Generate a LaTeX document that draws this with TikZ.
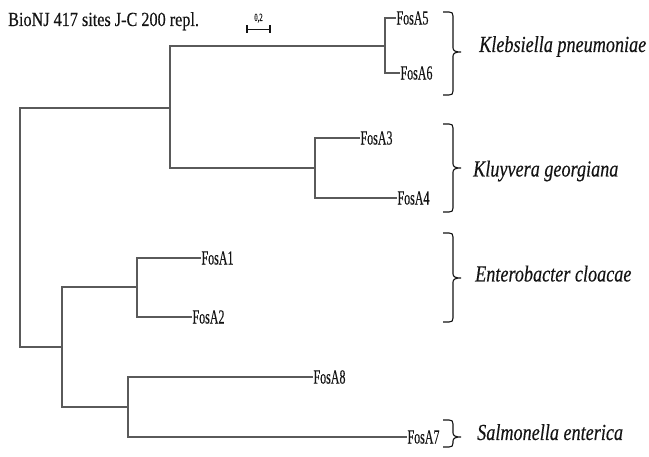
\documentclass[tikz,border=0pt]{standalone}
\usepackage{fontspec}
\setmainfont{Liberation Serif}
\newfontfamily\titlefont{Liberation Serif}[FakeStretch=0.81,FakeBold=0.3]
\newfontfamily\leaffont{Liberation Serif}[FakeStretch=0.6,FakeBold=0.3]
\newfontfamily\spfont{Liberation Serif}[FakeStretch=0.79,FakeBold=0.3]
\definecolor{branch}{RGB}{90,90,90}
\definecolor{txt}{RGB}{20,20,20}
\newcommand\mybrace[4]{% #1 name, #2 top, #3 tip, #4 bottom
  \coordinate (#1t) at (443,#2);
  \coordinate (#1m) at (461,#3);
  \coordinate (#1b) at (443,#4);
  \draw[bracket] (#1t) -- (449,#2) .. controls (452,#2) and (453,#2+1) .. (453,#2+4)
    -- (453,#3-4) .. controls (453,#3-1) and (456,#3) .. (#1m)
    .. controls (456,#3) and (453,#3+1) .. (453,#3+4)
    -- (453,#4-4) .. controls (453,#4-1) and (452,#4) .. (449,#4) -- (#1b);}
\begin{document}
\begin{tikzpicture}[x=1pt,y=-1pt,
  br/.style={draw=branch,line width=1.3pt},
  leaf/.style={anchor=west,inner xsep=0.3pt,inner ysep=0pt,text=txt,
    font=\leaffont\fontsize{20}{20}\selectfont},
  species/.style={anchor=base west,inner sep=0pt,text=txt,
    font=\spfont\itshape\fontsize{23}{23}\selectfont},
  bracket/.style={draw=txt,line width=1.1pt},
  scalebar/.style={draw=txt,line width=1.1pt}]
\useasboundingbox (0,0) rectangle (649,457);

% title
\node[anchor=base west,inner sep=0pt,text=txt,font=\titlefont\fontsize{20}{20}\selectfont]
  (title) at (8,26) {BioNJ 417 sites J-C 200 repl.};

% scale bar
\coordinate (sbl) at (247,29.5);
\coordinate (sbr) at (270,29.5);
\draw[scalebar] (sbl) -- (sbr);
\draw[scalebar] ([yshift=4pt]sbl) -- ([yshift=-4pt]sbl);
\draw[scalebar] ([yshift=4pt]sbr) -- ([yshift=-4pt]sbr);
\node[anchor=base,inner sep=0pt,text=txt,font=\leaffont\fontsize{11}{11}\selectfont]
  (sblab) at (258.5,21) {0,2};

% internal nodes
\coordinate (root) at (20,227.5);
\coordinate (A) at (170,108);
\coordinate (A1) at (385,46);
\coordinate (A2) at (315,168);
\coordinate (B) at (62,347);
\coordinate (B1) at (137,287);
\coordinate (B2) at (128,407);

% leaves
\node[leaf] (l5) at (396,18) {FosA5};
\node[leaf] (l6) at (400,73) {FosA6};
\node[leaf] (l3) at (360,138) {FosA3};
\node[leaf] (l4) at (397,198) {FosA4};
\node[leaf] (l1) at (201,258) {FosA1};
\node[leaf] (l2) at (192,317) {FosA2};
\node[leaf] (l8) at (313,377) {FosA8};
\node[leaf] (l7) at (407,437) {FosA7};

% branches
\draw[br] (root) |- (A);
\draw[br] (root) |- (B);
\draw[br] (A) |- (A1);
\draw[br] (A) |- (A2);
\draw[br] (A1) |- (l5.west);
\draw[br] (A1) |- (l6.west);
\draw[br] (A2) |- (l3.west);
\draw[br] (A2) |- (l4.west);
\draw[br] (B) |- (B1);
\draw[br] (B) |- (B2);
\draw[br] (B1) |- (l1.west);
\draw[br] (B1) |- (l2.west);
\draw[br] (B2) |- (l8.west);
\draw[br] (B2) |- (l7.west);

% brackets
\mybrace{k}{12}{52}{95}
\mybrace{g}{124}{168}{212}
\mybrace{e}{233}{278}{322}
\mybrace{s}{420}{437}{447}

% species
\node[species] (kp) at (479,52) {Klebsiella pneumoniae};
\node[species] (kg) at (473,176.5) {Kluyvera georgiana};
\node[species] (ec) at (475,281.5) {Enterobacter cloacae};
\node[species] (se) at (477,440) {Salmonella enterica};
\end{tikzpicture}
\end{document}
